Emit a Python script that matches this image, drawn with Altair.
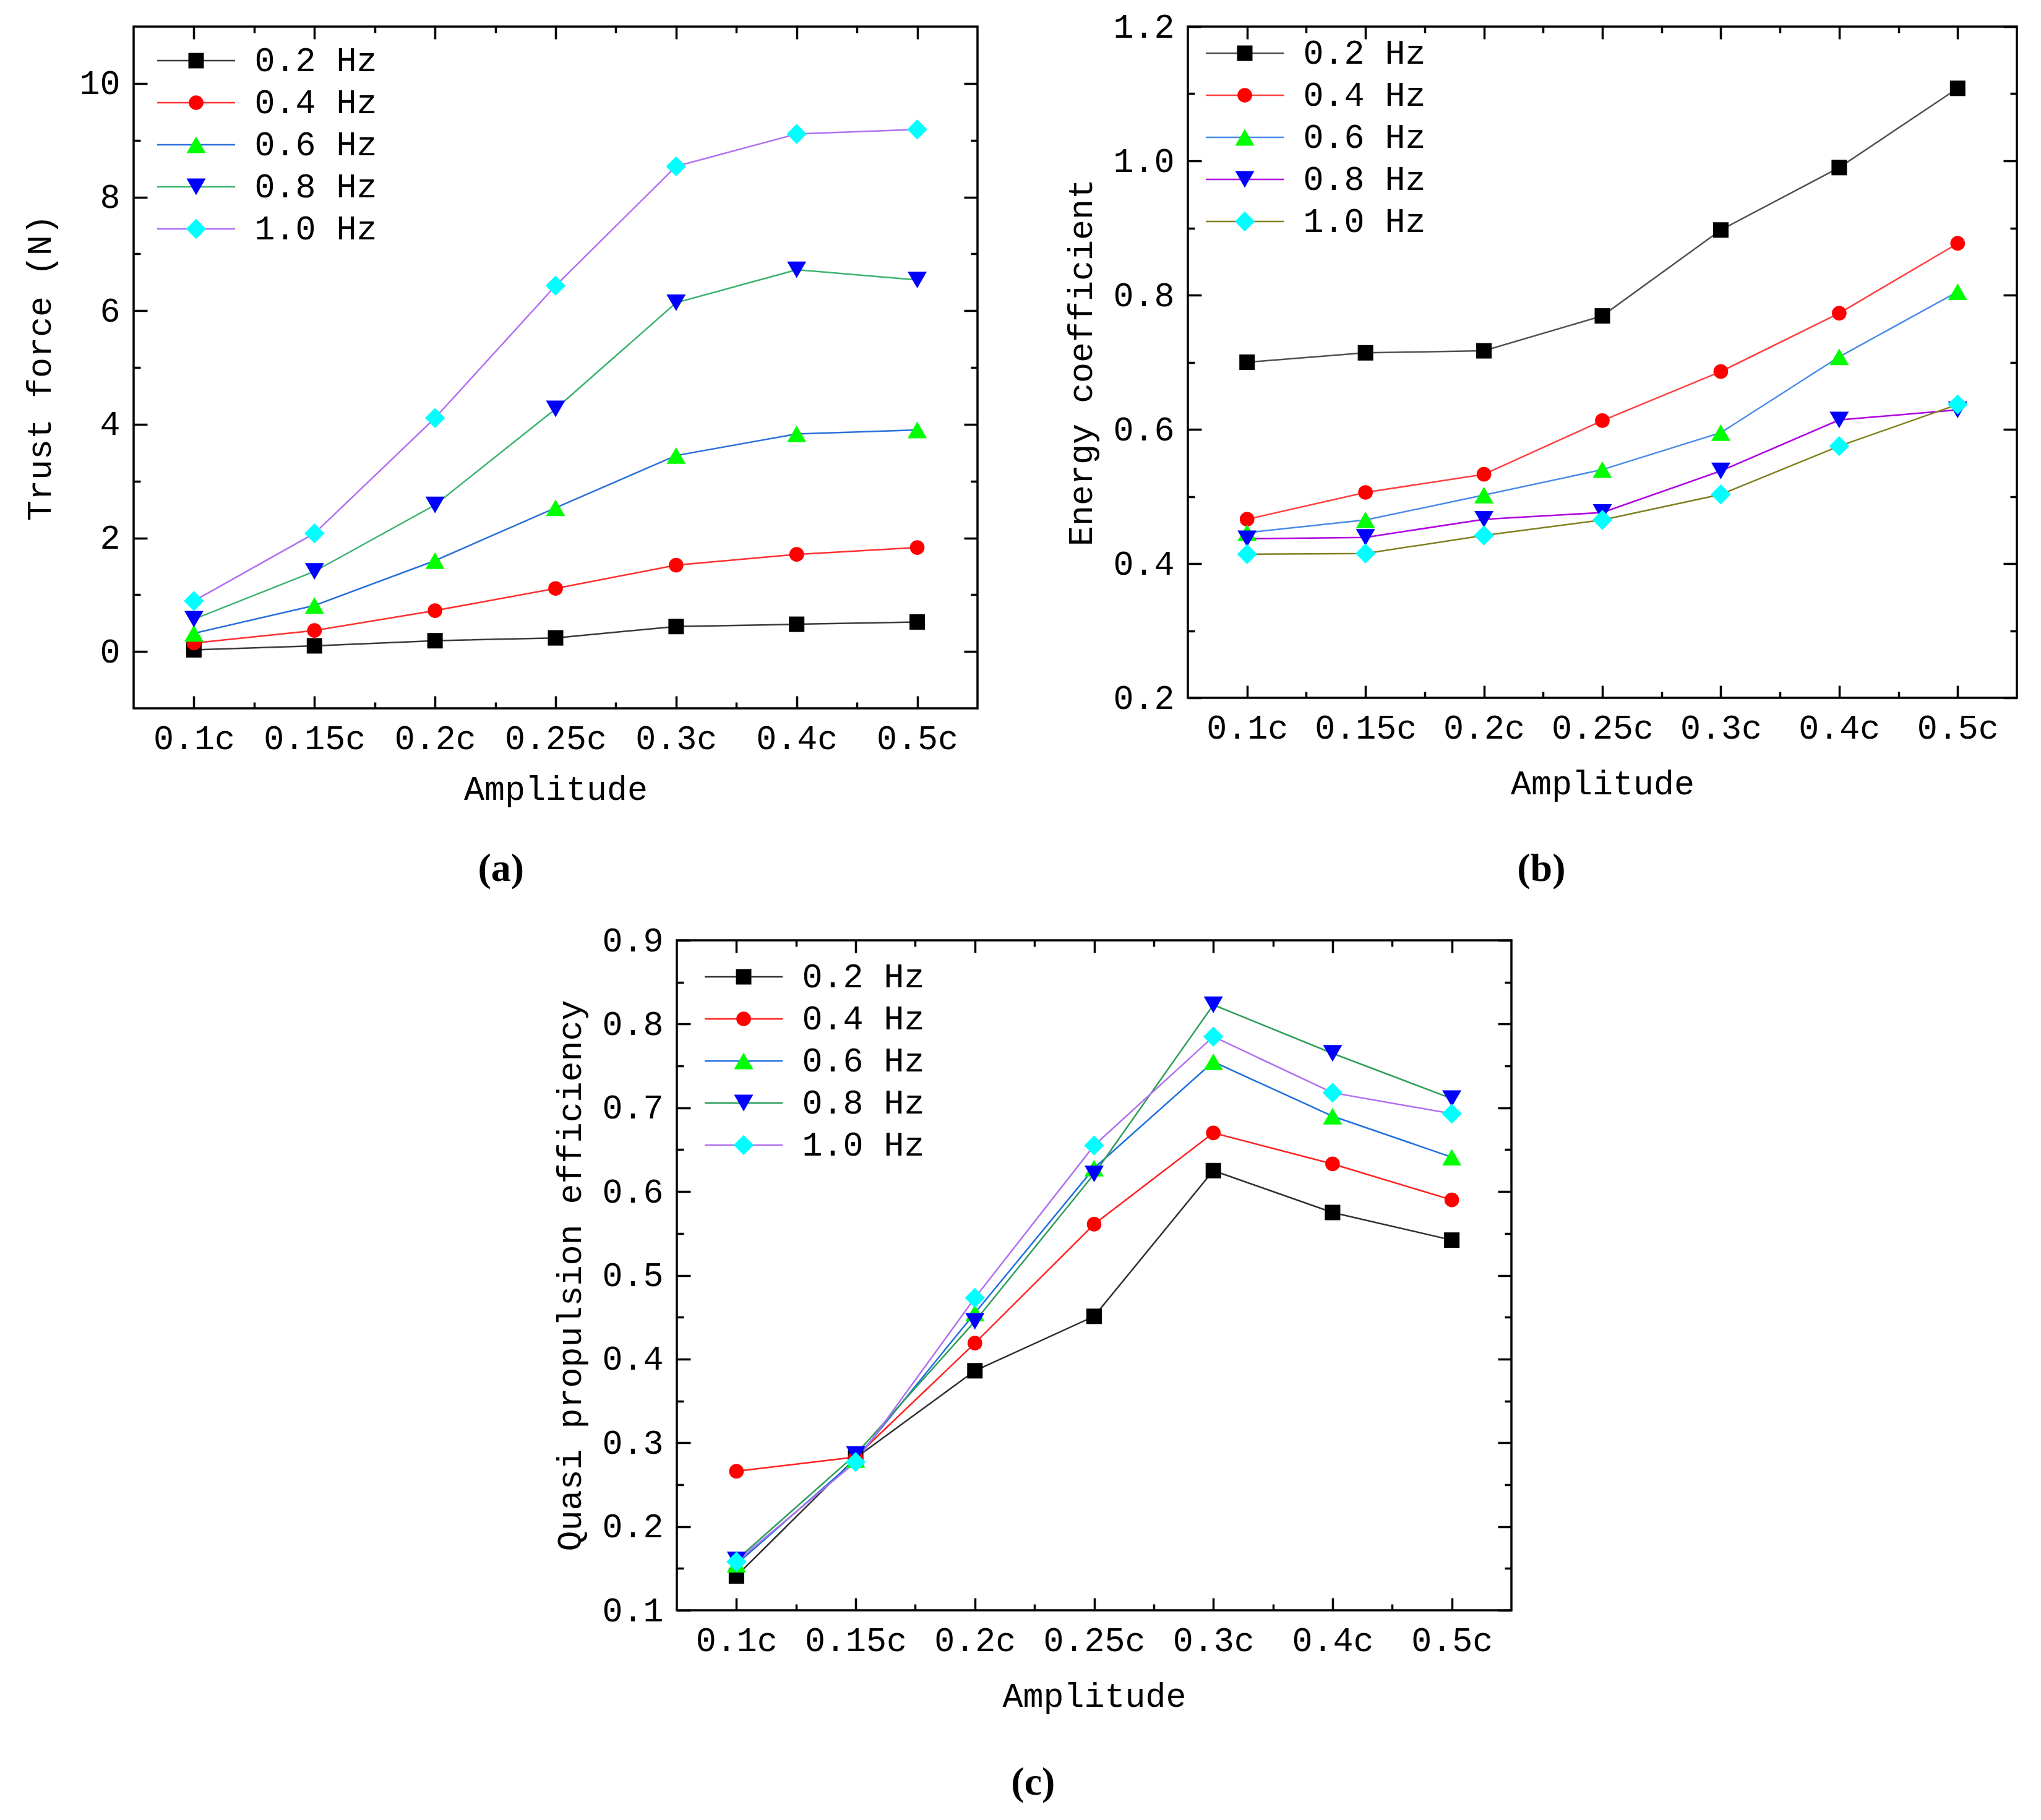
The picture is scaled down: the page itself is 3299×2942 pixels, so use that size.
import altair as alt
import pandas as pd

# ---------------- data ----------------
amplitudes = ["0.1c", "0.15c", "0.2c", "0.25c", "0.3c", "0.4c", "0.5c"]
freqs = ["0.2 Hz", "0.4 Hz", "0.6 Hz", "0.8 Hz", "1.0 Hz"]

thrust_02 = [0.03, 0.10, 0.19, 0.24, 0.44, 0.48, 0.52]
thrust_04 = [0.15, 0.37, 0.72, 1.11, 1.52, 1.71, 1.83]
thrust_06 = [0.32, 0.81, 1.60, 2.53, 3.45, 3.83, 3.90]
thrust_08 = [0.57, 1.41, 2.58, 4.27, 6.14, 6.72, 6.54]
thrust_10 = [0.89, 2.08, 4.11, 6.44, 8.54, 9.11, 9.19]

energy_02 = [0.700, 0.714, 0.717, 0.769, 0.897, 0.990, 1.108]
energy_04 = [0.466, 0.506, 0.533, 0.613, 0.686, 0.773, 0.877]
energy_06 = [0.446, 0.465, 0.502, 0.540, 0.595, 0.708, 0.805]
energy_08 = [0.437, 0.439, 0.466, 0.476, 0.538, 0.614, 0.629]
energy_10 = [0.414, 0.415, 0.442, 0.465, 0.503, 0.575, 0.637]

eff_02 = [0.141, 0.282, 0.386, 0.451, 0.625, 0.575, 0.542]
eff_04 = [0.266, 0.283, 0.419, 0.561, 0.670, 0.633, 0.590]
eff_06 = [0.155, 0.280, 0.455, 0.628, 0.755, 0.690, 0.641]
eff_08 = [0.160, 0.286, 0.445, 0.621, 0.823, 0.765, 0.711]
eff_10 = [0.158, 0.277, 0.473, 0.655, 0.785, 0.718, 0.693]

marker_colors = ["#000000", "#ff0000", "#00ff00", "#0000ff", "#00ffff"]
marker_shapes = ["square", "circle", "triangle-up", "triangle-down", "diamond"]
marker_sizes = [625, 560, 960, 960, 1050]

lines_a = ["#3a3a3a", "#ff3030", "#2a6fdb", "#3cb371", "#b070f0"]
lines_b = ["#505050", "#ff4040", "#4a8ae8", "#b000e0", "#808020"]
lines_c = ["#303030", "#ff2020", "#1f6fe0", "#2e9e5b", "#b070f0"]

FONT = "Liberation Mono"
FS = 55


def panel(series, line_colors, ydom, ymajor, yminor, yfmt, ytitle, label,
          width, height, leg_x, leg_y, ytitle_pad, xtitle_pad, label_offset):
    rows = []
    for f, vals in zip(freqs, series):
        for i, v in enumerate(vals):
            rows.append({"idx": i, "val": v, "freq": f, "freq_m": f})
    df = pd.DataFrame(rows)

    xs = alt.Scale(domain=[-0.5, 6.5], nice=False, zero=False)
    ys = alt.Scale(domain=ydom, nice=False, zero=False)
    label_expr = "[" + ",".join("'%s'" % a for a in amplitudes) + "][datum.value]"
    xmajor = list(range(len(amplitudes)))
    xminor = [i + 0.5 for i in range(len(amplitudes) - 1)]

    common = dict(grid=False, domain=False, tickColor="black", tickWidth=3.5,
                  labelFont=FONT, labelFontSize=FS, labelColor="black",
                  titleFont=FONT, titleFontSize=FS, titleColor="black",
                  titleFontWeight="normal", labelOverlap=False)

    xb_major = alt.Axis(orient="bottom", values=xmajor, labelExpr=label_expr,
                        tickSize=20, offset=-20, labelPadding=22,
                        title="Amplitude", titlePadding=xtitle_pad, **common)
    xb_minor = alt.Axis(orient="bottom", values=xminor, tickSize=10, offset=-10,
                        labels=False, title=None, **common)
    xt_major = alt.Axis(orient="top", values=xmajor, tickSize=20, offset=-20,
                        labels=False, title=None, **common)
    xt_minor = alt.Axis(orient="top", values=xminor, tickSize=10, offset=-10,
                        labels=False, title=None, **common)
    yl_major = alt.Axis(orient="left", values=ymajor, format=yfmt, tickSize=22,
                        offset=-22, labelPadding=22, title=ytitle,
                        titlePadding=ytitle_pad, **common)
    yl_minor = alt.Axis(orient="left", values=yminor, tickSize=11, offset=-11,
                        labels=False, title=None, **common)
    yr_major = alt.Axis(orient="right", values=ymajor, tickSize=22, offset=-22,
                        labels=False, title=None, **common)
    yr_minor = alt.Axis(orient="right", values=yminor, tickSize=11, offset=-11,
                        labels=False, title=None, **common)

    line_legend = alt.Legend(orient="none", legendX=leg_x, legendY=leg_y,
                             title=None, symbolType="stroke", symbolSize=15876,
                             symbolStrokeWidth=2.5, labelFont=FONT,
                             labelFontSize=FS, labelColor="black",
                             labelOffset=30, clipHeight=56, rowPadding=12,
                             padding=0, labelLimit=0)
    point_legend = alt.Legend(orient="none", legendX=leg_x + 37, legendY=leg_y,
                              title=None, symbolStrokeWidth=0, symbolOpacity=1,
                              labelFont=FONT, labelFontSize=FS, labelExpr="''",
                              labelOffset=30, clipHeight=56, rowPadding=12,
                              padding=0, labelLimit=0)

    lines = alt.Chart(df).mark_line(strokeWidth=2.5).encode(
        x=alt.X("idx:Q", scale=xs, axis=xb_major),
        y=alt.Y("val:Q", scale=ys, axis=yl_major),
        color=alt.Color("freq:N", scale=alt.Scale(range=line_colors),
                        legend=line_legend),
    )
    points = alt.Chart(df).mark_point(filled=True, opacity=1, strokeWidth=0).encode(
        x=alt.X("idx:Q", scale=xs, axis=xb_minor),
        y=alt.Y("val:Q", scale=ys, axis=yl_minor),
        fill=alt.Fill("freq_m:N", scale=alt.Scale(range=marker_colors),
                      legend=point_legend),
        shape=alt.Shape("freq_m:N", scale=alt.Scale(range=marker_shapes),
                        legend=point_legend),
        size=alt.Size("freq_m:N", scale=alt.Scale(type="ordinal", range=marker_sizes),
                      legend=point_legend),
    )
    frame1 = alt.Chart(df).mark_point(opacity=0).encode(
        x=alt.X("idx:Q", scale=xs, axis=xt_major),
        y=alt.Y("val:Q", scale=ys, axis=yr_major),
    )
    frame2 = alt.Chart(df).mark_point(opacity=0).encode(
        x=alt.X("idx:Q", scale=xs, axis=xt_minor),
        y=alt.Y("val:Q", scale=ys, axis=yr_minor),
    )
    return alt.layer(lines, points, frame1, frame2).resolve_axis(
        x="independent", y="independent"
    ).properties(
        width=width, height=height,
        title=alt.TitleParams(label, orient="bottom", anchor="middle",
                              frame="bounds", font="Liberation Serif",
                              fontSize=64, fontWeight="bold", color="black",
                              offset=label_offset),
    )


pa = panel([thrust_02, thrust_04, thrust_06, thrust_08, thrust_10], lines_a,
           [-1, 11], [0, 2, 4, 6, 8, 10], [1, 3, 5, 7, 9], "d",
           "Trust force (N)", "(a)", 1364, 1102, 36.5, 27, 34, 28, 70)
pb = panel([energy_02, energy_04, energy_06, energy_08, energy_10], lines_b,
           [0.2, 1.2], [0.2, 0.4, 0.6, 0.8, 1.0, 1.2],
           [0.3, 0.5, 0.7, 0.9, 1.1], ".1f",
           "Energy coefficient", "(b)", 1340, 1085, 27.5, 15, 22, 36, 79)
pc = panel([eff_02, eff_04, eff_06, eff_08, eff_10], lines_c,
           [0.1, 0.9], [0.1, 0.2, 0.3, 0.4, 0.5, 0.6, 0.7, 0.8, 0.9],
           [0.15, 0.25, 0.35, 0.45, 0.55, 0.65, 0.75, 0.85], ".1f",
           "Quasi propulsion efficiency", "(c)", 1349, 1083, 43.5, 31, 22, 36, 81)

spacer = alt.Chart(pd.DataFrame({"s": [0]})).mark_point(opacity=0).properties(
    width=676, height=10, view=alt.ViewBackground(stroke="transparent"))

res = dict(x="independent", y="independent", color="independent",
           fill="independent", shape="independent", size="independent")
leg = dict(color="independent", fill="independent", shape="independent",
           size="independent")

top = alt.hconcat(pa, pb, spacing=135).resolve_scale(**res).resolve_legend(**leg)
bottom = alt.hconcat(spacer, pc, spacing=0).resolve_scale(**res).resolve_legend(**leg)

chart = alt.vconcat(top, bottom, spacing=52).resolve_scale(**res).resolve_legend(
    **leg
).properties(
    padding={"left": 28, "top": 6, "right": 5, "bottom": 5},
    background="white",
).configure_view(stroke="black", strokeWidth=3.5)

chart.save("out.html", embed_options={"renderer": "svg", "actions": False})
